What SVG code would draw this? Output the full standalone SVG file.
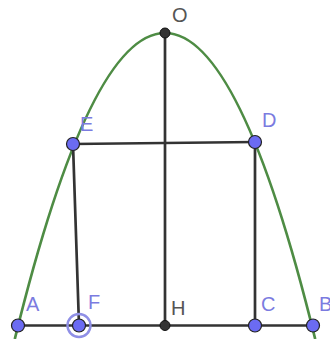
<svg xmlns="http://www.w3.org/2000/svg" width="330" height="339" viewBox="0 0 330 339">
<style>
.seg{stroke:#333;stroke-width:2.7;fill:none;stroke-linecap:round}
.curve{stroke:#4e8c44;stroke-width:2.7;fill:none}
.pt{fill:#6b6bf2;stroke:#222;stroke-width:1.2}
.lbl{font-family:"Liberation Sans",Arial,sans-serif;font-size:20px;fill:#7b7be0}
.lblh{font-family:"Liberation Sans",Arial,sans-serif;font-size:20px;fill:#555}
</style>
<rect width="330" height="339" fill="#fff"/>
<g id="parabola">
<path class="curve" d="M14.8,339 Q165,-273 315.2,339"/>
</g>
<g id="connectors">
<line class="seg" x1="18" y1="325.5" x2="313" y2="325.5"/>
<line class="seg" x1="165" y1="33" x2="165" y2="325.5"/>
<line class="seg" x1="73" y1="144" x2="255" y2="142"/>
<line class="seg" x1="73" y1="144" x2="79" y2="325.5"/>
<line class="seg" x1="255" y1="142" x2="255" y2="325.5"/>
</g>
<g id="O"><circle cx="165" cy="33" r="5" fill="#333" stroke="#111"/><text class="lblh" x="172" y="22">O</text></g>
<g id="E"><circle class="pt" cx="73" cy="144" r="6.5"/><text class="lbl" x="80" y="131">E</text></g>
<g id="D"><circle class="pt" cx="255" cy="142" r="6.5"/><text class="lbl" x="262" y="127">D</text></g>
<g id="A"><circle class="pt" cx="18" cy="325.5" r="6.5"/><text class="lbl" x="26" y="311">A</text></g>
<g id="F"><circle cx="79" cy="325.5" r="11.5" fill="none" stroke="#8f8fe6" stroke-width="2.4"/><circle class="pt" cx="79" cy="325.5" r="6.5"/><text class="lbl" x="88" y="309">F</text></g>
<g id="H"><circle cx="165" cy="325.5" r="5" fill="#333" stroke="#111"/><text class="lblh" x="171" y="315">H</text></g>
<g id="C"><circle class="pt" cx="255" cy="325.5" r="6.5"/><text class="lbl" x="261" y="311">C</text></g>
<g id="B"><circle class="pt" cx="313" cy="325.5" r="6.5"/><text class="lbl" x="319" y="311">B</text></g>
</svg>
